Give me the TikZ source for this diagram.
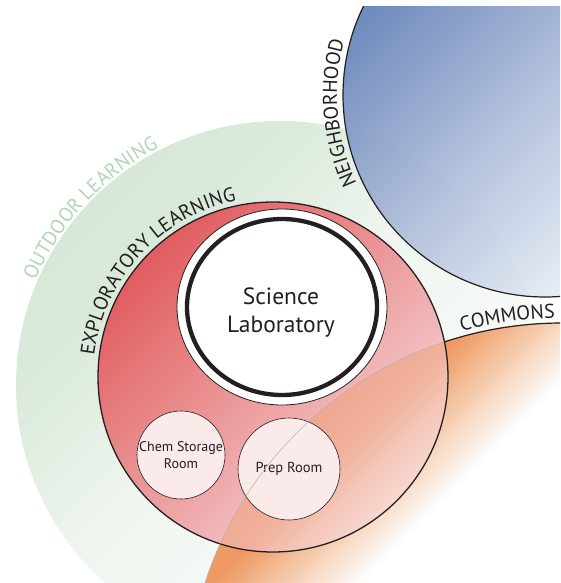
\documentclass[tikz,border=0pt]{standalone}
\usepackage{fontspec}
\setsansfont{PT Sans}
\usetikzlibrary{decorations.text,shapes.geometric}
\definecolor{outdoortext}{HTML}{B2D5B4}
\definecolor{roomfill}{HTML}{FBEAEA}
\definecolor{inkblack}{HTML}{231F20}

% zone fills, rotated by 45: 100bp lies up-left, 0bp down-right
\definecolor{hood0}{HTML}{F5F7FB}
\definecolor{hood1}{HTML}{E3E9F3}
\definecolor{hood2}{HTML}{A5B6D6}
\definecolor{hood3}{HTML}{6582B8}
\definecolor{hood4}{HTML}{4A6AA9}
\definecolor{red0}{HTML}{FCECEC}
\definecolor{red1}{HTML}{F5CFD0}
\definecolor{red2}{HTML}{EA8F90}
\definecolor{red3}{HTML}{E05A5E}
\definecolor{red4}{HTML}{D84E52}
\definecolor{green0}{HTML}{F8FAF8}
\definecolor{green1}{HTML}{EEF5EE}
\definecolor{green2}{HTML}{D9E9DA}
\definecolor{green3}{HTML}{D0E4D1}
\definecolor{commonsorange}{HTML}{EE9A62}
\definecolor{commonspale}{HTML}{F6CDB0}

\pgfdeclareverticalshading{greenfade}{100bp}{color(0bp)=(white); color(35bp)=(green0); color(53bp)=(green1); color(68bp)=(green2); color(100bp)=(green3)}
\pgfdeclareverticalshading{bluefade}{100bp}{color(0bp)=(hood0); color(32.5bp)=(hood1); color(53.5bp)=(hood2); color(72.7bp)=(hood3); color(100bp)=(hood4)}
\pgfdeclareverticalshading{redfade}{100bp}{color(0bp)=(red0); color(30bp)=(red1); color(55bp)=(red2); color(76bp)=(red3); color(100bp)=(red4)}
\pgfdeclareverticalshading{orangefade}{100bp}{color(0bp)=(white); color(65bp)=(white); color(68.5bp)=(commonspale); color(72bp)=(commonsorange); color(100bp)=(commonsorange)}

\begin{document}
\begin{tikzpicture}[
    x=1pt, y=1pt,
    every node/.style={font=\sffamily, text=inkblack},
    zone/.style={circle, inner sep=0pt, shade, shading=#1, shading angle=45},
    roombox/.style={
        circle,
        draw=inkblack,
        line width=0.6pt,
        fill=roomfill,
        inner sep=0pt,
        align=center,
    },
    ringlabel/.style={decorate, decoration={text along path, text align=center}},
]
\useasboundingbox (0,0) rectangle (560,-583);

\begin{scope}
\clip (0,-7) rectangle (560,-583);

% === Zones ===
\node[zone=greenfade, minimum size=528pt] (outdoor) at (280,-385) {};
\node[zone=bluefade, minimum size=404pt, draw=inkblack, line width=1.2pt, fill opacity=0.93] (hood) at (545,-95) {};
\node[zone=orangefade, minimum size=750pt] (commons) at (562,-698) {};
\node[zone=redfade, minimum size=350pt] (explore) at (273,-377) {};

% commons showing through the red zone
\begin{scope}
    \clip (explore.center) circle[radius=175pt];
    \shade[shading=orangefade, shading angle=45, fill opacity=0.4] (commons.center) circle[radius=375pt];
\end{scope}
\draw[inkblack, line width=1.3pt] (explore.center) circle[radius=175pt];

% === Rooms ===
\node[roombox, minimum size=88pt, font=\sffamily\fontsize{14}{17}\selectfont] (chem) at (181,-455) {Chem Storage\\Room};
\node[roombox, minimum size=102pt, font=\sffamily\fontsize{14.5}{18}\selectfont] (prep) at (289,-469) {Prep Room};

% rim of the commons
\draw[black!30, line width=0.5pt] (commons.center) circle[radius=375pt];
\draw[inkblack, line width=1.2pt] (commons.center) ++(108.3:375pt) arc[start angle=108.3, end angle=84, radius=375pt];

% === Science lab ===
\node[ellipse, draw=inkblack, line width=0.8pt, fill=white, minimum width=210pt, minimum height=196pt, inner sep=0pt] (lab) at (282,-307) {};
\draw[inkblack, line width=4.3pt] (lab.center) ellipse[x radius=95pt, y radius=88pt];
\node[font=\sffamily\fontsize{23.5}{28}\selectfont, align=center] (labname) at (281,-313) {Science\\Laboratory};

% === Ring labels ===
\path[ringlabel, decoration={text color=outdoortext, text={|\sffamily\fontsize{20}{20}\selectfont|OUTDOOR LEARNING}}]
    (outdoor.center) ++(162:266pt) arc[start angle=162, end angle=112, radius=266pt];
\path[ringlabel, decoration={text color=inkblack, text={|\sffamily\fontsize{20}{20}\selectfont|EXPLORATORY LEARNING}}]
    (explore.center) ++(180:180pt) arc[start angle=180, end angle=95, radius=180pt];
\path[ringlabel, decoration={text color=inkblack, text={|\sffamily\fontsize{20}{20}\selectfont|NEIGHBORHOOD}}]
    (hood.center) ++(210:208pt) arc[start angle=210, end angle=160, radius=208pt];
\path[ringlabel, decoration={text color=inkblack, text={|\sffamily\fontsize{20}{20}\selectfont|COMMONS}}]
    (commons.center) ++(110:380pt) arc[start angle=110, end angle=86.4, radius=380pt];
\end{scope}

\end{tikzpicture}
\end{document}
